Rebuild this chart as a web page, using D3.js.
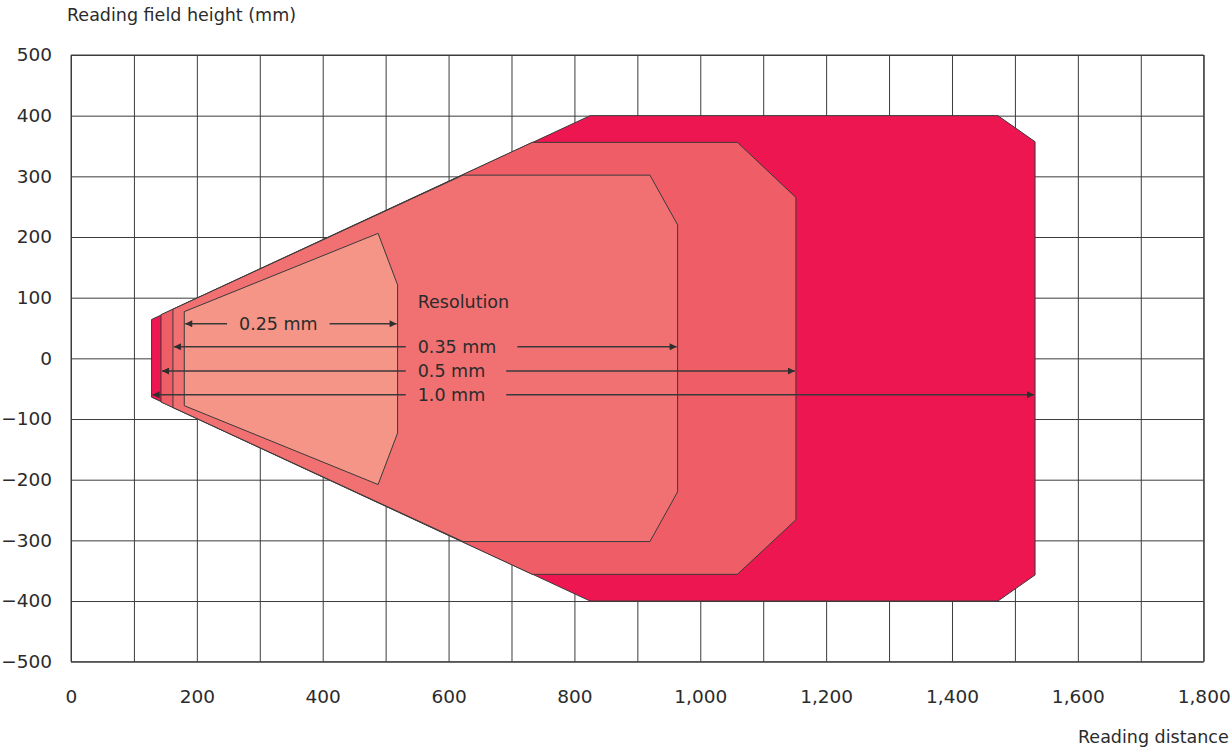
<!DOCTYPE html>
<html><head><meta charset="utf-8">
<script src="https://cdn.jsdelivr.net/npm/d3@7"></script>
<style>
html,body{margin:0;padding:0;background:#fff;}
text{font-family:"DejaVu Sans",sans-serif;fill:#2b2b2b;}
</style></head>
<body><svg id="c" width="1232" height="747"></svg>
<script>
// ---- data ----
const xTicks = [0,200,400,600,800,1000,1200,1400,1600,1800];
const xGrid = d3.range(0,1801,100);
const yTicks = [500,400,300,200,100,0,-100,-200,-300,-400,-500];
const resolutions = ["1.0 mm","0.5 mm","0.35 mm","0.25 mm"];
const field10 = [[128,64],[825,400],[1473,400],[1532,357],[1532,-357],[1473,-400],[825,-400],[128,-64]];
const field05 = [[143,72],[733,356],[1059,356],[1152,265],[1152,-266],[1059,-356],[733,-356],[143,-72]];
const field035 = [[162,81],[623,302],[920,302],[964,220],[964,-220],[920,-302],[623,-302],[162,-81]];
const field025 = [[180,77],[488,206],[519,121],[519,-123],[488,-208],[180,-78]];
const fields = [field10, field05, field035, field025];
const fieldColors = ["#ED1650","#EF5E66","#F17173","#F59587"];
// dimension arrows: y, xStart, xEnd, label x
const arrowY = [-60,-21,19,57];
const arrowX0 = [128,143,162,180];
const arrowX1 = [1532,1152,964,519];
const labelX = [551,551,551,267];

const svg = d3.select("#c");
const x = d3.scaleLinear().domain([0,1800]).range([71,1203.7]);
const y = d3.scaleLinear().domain([-500,500]).range([661.7,55]);

// grid via axes
const gy = svg.append("g").attr("transform","translate(71,0)")
  .call(d3.axisLeft(y).tickValues(yTicks).tickSize(-(1203.7-71)).tickPadding(19).tickFormat(d3.format(",")));
const gx = svg.append("g").attr("transform","translate(0,661.7)")
  .call(d3.axisBottom(x).tickValues(xGrid).tickSize(-(661.7-55)).tickPadding(28.5)
    .tickFormat(d => xTicks.includes(d) ? d3.format(",")(d) : ""));
[gx,gy].forEach(g=>{
  g.select(".domain").remove();
  g.selectAll("line").attr("stroke","#3c3c3c").attr("stroke-width",1);
  g.selectAll("text").attr("font-size","18.5px").attr("fill","#2b2b2b").attr("font-family","DejaVu Sans");
});
svg.append("path").attr("d",`M${x(0)},${y(500)}H${x(1800)}V${y(-500)}H${x(0)}Z`).attr("fill","none").attr("stroke","#3c3c3c");

// fields
const line = d3.line().x(d=>x(d[0])).y(d=>y(d[1])).curve(d3.curveLinearClosed);
svg.append("g").selectAll("path").data(fields).join("path")
  .attr("d",line).attr("fill",(d,i)=>fieldColors[i]).attr("stroke","#3a3a3a").attr("stroke-width",1);

// arrows
const defs = svg.append("defs");
defs.append("marker").attr("id","ah").attr("viewBox","0 0 10 10").attr("refX",10).attr("refY",5)
  .attr("markerWidth",11).attr("markerHeight",7).attr("markerUnits","userSpaceOnUse").attr("orient","auto")
  .append("path").attr("d","M0,0L10,5L0,10Z").attr("fill","#2e2e2e");

const ga = svg.append("g");
resolutions.forEach((lab,i)=>{
  const yy = y(arrowY[i]);
  const t = ga.append("text").attr("x",x(labelX[i])).attr("y",yy).attr("dy","0.36em")
    .attr("font-size","17.5px").text(lab);
  const w = t.node().getComputedTextLength();
  const tx0 = x(labelX[i]) - 12, tx1 = x(labelX[i]) + w + (labelX[i] > 400 ? 21 : 12);
  ga.append("line").attr("x1",tx0).attr("x2",x(arrowX0[i])+1).attr("y1",yy).attr("y2",yy)
    .attr("stroke","#3a3a3a").attr("stroke-width",1.5).attr("marker-end","url(#ah)");
  ga.append("line").attr("x1",tx1).attr("x2",x(arrowX1[i])-1).attr("y1",yy).attr("y2",yy)
    .attr("stroke","#3a3a3a").attr("stroke-width",1.5).attr("marker-end","url(#ah)");
});
svg.append("text").attr("x",x(551)).attr("y",308).attr("font-size","17.5px").text("Resolution");

// axis titles
svg.append("text").attr("x",67).attr("y",21).attr("font-size","17.5px").text("Reading field height (mm)");
svg.append("text").attr("x",1078).attr("y",743).attr("font-size","17.5px").text("Reading distance");
</script></body></html>
